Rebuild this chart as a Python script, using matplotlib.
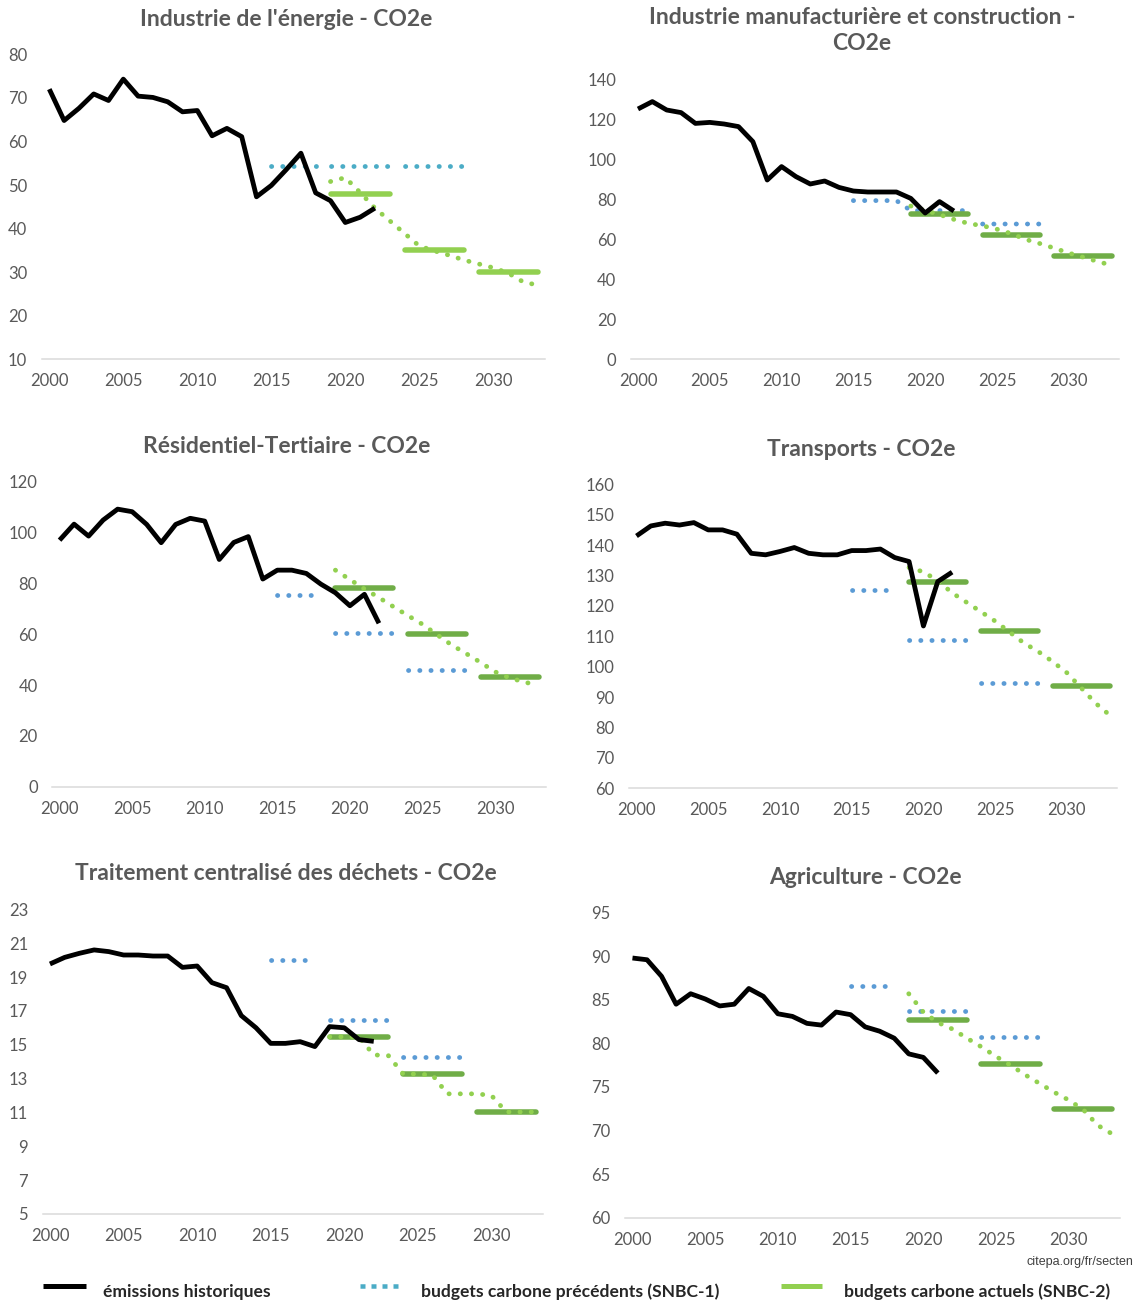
import matplotlib
matplotlib.use("Agg")
import matplotlib.pyplot as plt
from matplotlib.lines import Line2D
import numpy as np

W, H = 1137, 1301
DPI = 100

# ---------------- data ----------------
HIST_YEARS = list(range(2000, 2023))
TRAJ_YEARS = list(range(2019, 2034))
SNBC1_PERIODS = [(2015, 2018), (2019, 2023), (2024, 2028)]
SNBC2_PERIODS = [(2019, 2023), (2024, 2028), (2029, 2033)]
X_TICKS = [2000, 2005, 2010, 2015, 2020, 2025, 2030]

# Industrie de l'énergie
energie_hist = [72.0, 64.8, 67.6, 70.9, 69.4, 74.3, 70.4, 70.1, 69.1, 66.8, 67.1, 61.3,
                63.0, 61.1, 47.3, 49.9, 53.5, 57.3, 48.2, 46.4, 41.4, 42.6, 44.7]
energie_snbc1 = [54.4, 54.4, 54.4]
energie_snbc1_join = [False, False]
energie_snbc2 = [48.0, 35.0, 30.1]
energie_traj = [50.8, 51.7, 48.3, 44.7, 41.8, 38.9, 36.0, 34.9, 33.9, 32.8, 31.9, 31.0,
                29.8, 27.8, 27.0]
energie_yticks = [10, 20, 30, 40, 50, 60, 70, 80]

# Industrie manufacturière et construction
manuf_hist = [125.0, 128.7, 124.5, 123.2, 117.8, 118.3, 117.5, 116.2, 108.7, 89.5, 96.2, 91.2,
              87.5, 89.0, 85.8, 84.0, 83.5, 83.5, 83.5, 80.3, 73.0, 78.7, 74.0]
manuf_snbc1 = [79.2, 74.2, 67.5]
manuf_snbc1_join = [True, False]
manuf_snbc2 = [72.3, 61.8, 51.3]
manuf_traj = [76.5, 74.3, 72.2, 69.8, 67.8, 66.6, 64.9, 62.7, 59.8, 57.7, 55.4, 53.0,
              50.9, 48.8, 46.8]
manuf_yticks = [0, 20, 40, 60, 80, 100, 120, 140]

# Résidentiel-Tertiaire
resid_hist = [97.0, 103.3, 98.6, 104.9, 109.2, 108.2, 103.2, 96.0, 103.2, 105.6, 104.5, 89.4,
              96.1, 98.4, 81.7, 85.2, 85.2, 83.9, 79.7, 76.3, 71.2, 75.7, 64.3]
resid_snbc1 = [75.4, 60.6, 45.9]
resid_snbc1_join = [False, False]
resid_snbc2 = [78.0, 60.1, 43.0]
resid_traj = [85.2, 81.5, 77.8, 74.4, 70.8, 67.3, 63.9, 59.8, 55.8, 52.4, 48.9, 45.2,
              42.8, 41.2, 39.8]
resid_yticks = [0, 20, 40, 60, 80, 100, 120]

# Transports
transp_hist = [143.0, 146.3, 147.2, 146.6, 147.4, 145.0, 145.0, 143.6, 137.3, 136.8, 137.9, 139.2,
               137.3, 136.8, 136.8, 138.2, 138.2, 138.7, 135.9, 134.6, 113.4, 128.0, 131.1]
transp_snbc1 = [125.2, 108.8, 94.5]
transp_snbc1_join = [False, False]
transp_snbc2 = [127.7, 111.6, 93.8]
transp_traj = [132.6, 131.2, 128.3, 124.3, 121.2, 118.1, 115.0, 111.4, 107.8, 105.0, 101.7, 98.0,
               93.0, 88.0, 84.0]
transp_yticks = [60, 70, 80, 90, 100, 110, 120, 130, 140, 150, 160]

# Traitement centralisé des déchets
dechets_hist = [19.77, 20.16, 20.40, 20.60, 20.50, 20.30, 20.30, 20.24, 20.24, 19.57, 19.65, 18.67,
                18.37, 16.72, 16.00, 15.08, 15.08, 15.18, 14.89, 16.07, 16.00, 15.30, 15.20]
dechets_snbc1 = [20.0, 16.44, 14.3]
dechets_snbc1_join = [False, False]
dechets_snbc2 = [15.48, 13.25, 11.03]
dechets_traj = [15.47, 15.47, 15.45, 14.40, 14.35, 13.27, 13.27, 13.20, 12.10, 12.10, 12.10, 12.00,
                11.03, 11.03, 11.03]
dechets_yticks = [5, 7, 9, 11, 13, 15, 17, 19, 21, 23]

# Agriculture
agri_hist = [89.8, 89.6, 87.7, 84.5, 85.7, 85.1, 84.3, 84.5, 86.3, 85.4, 83.4, 83.1,
             82.3, 82.1, 83.6, 83.3, 81.9, 81.4, 80.6, 78.8, 78.4, 76.6]
agri_snbc1 = [86.6, 83.75, 80.7]
agri_snbc1_join = [False, False]
agri_snbc2 = [82.7, 77.6, 72.5]
agri_traj = [85.7, 83.6, 82.4, 81.65, 80.6, 79.6, 78.5, 77.5, 76.4, 75.4, 74.4, 73.5,
             72.4, 70.6, 69.6]
agri_yticks = [60, 65, 70, 75, 80, 85, 90, 95]

LEGEND_LABELS = ["émissions historiques",
                 "budgets carbone précédents (SNBC-1)",
                 "budgets carbone actuels (SNBC-2)"]
SOURCE = "citepa.org/fr/secten"

# ---------------- style ----------------
FONT = "Lato"
GRAY = "#595959"
AXIS = "#D9D9D9"
BLACK = "#000000"
BLUE_TEAL = "#4BACC6"
BLUE = "#5B9BD5"
GREEN_LIGHT = "#92D050"
GREEN_DARK = "#70AD47"

PX = 72.0 / DPI  # points per pixel

fig = plt.figure(figsize=(W / DPI, H / DPI), dpi=DPI)
fig.patch.set_facecolor("white")


def fx(x):
    return x / W


def fy(y):
    return 1 - y / H


def segments(periods, values, joins=None):
    xs, ys = [], []
    for i, ((a, b), v) in enumerate(zip(periods, values)):
        if i > 0 and not (joins and joins[i - 1]):
            xs.append(np.nan)
            ys.append(np.nan)
        xs += [a, b]
        ys += [v, v]
    return xs, ys


def panel(left, right, top, bottom, title_lines, title_x, title_ys,
          hist, snbc1, snbc1_join, snbc2, traj, yticks, blue, green_solid):
    ax = fig.add_axes([fx(left), fy(bottom), (right - left) / W, (bottom - top) / H])
    ax.set_xlim(1999.5, 2033.5)
    ax.set_ylim(yticks[0], yticks[-1])
    for s in ["top", "left", "right"]:
        ax.spines[s].set_visible(False)
    ax.spines["bottom"].set_color(AXIS)
    ax.spines["bottom"].set_linewidth(1.5 * PX)
    ax.set_xticks(X_TICKS)
    ax.set_yticks(yticks)
    ax.set_xticklabels([str(t) for t in X_TICKS])
    ax.set_yticklabels([str(t) for t in yticks])
    ax.tick_params(axis="both", length=0, labelsize=12, labelcolor=GRAY)
    ax.tick_params(axis="x", pad=10)
    ax.tick_params(axis="y", pad=10.5)
    for lab in ax.get_xticklabels() + ax.get_yticklabels():
        lab.set_fontfamily(FONT)
    ax.set_facecolor("none")

    dot_px = 4.8
    dot_lw = dot_px * PX
    dots = (0, (0.05, 11.2 / dot_px - 0.05))

    x1, y1 = segments(SNBC1_PERIODS, snbc1, snbc1_join)
    ax.plot(x1, y1, color=blue, lw=dot_lw, linestyle=dots, dash_capstyle="round",
            zorder=2, clip_on=False)
    x2, y2 = segments(SNBC2_PERIODS, snbc2)
    ax.plot(x2, y2, color=green_solid, lw=5.5 * PX, solid_capstyle="round",
            zorder=3, clip_on=False)
    ax.plot(TRAJ_YEARS, traj, color=GREEN_LIGHT, lw=dot_lw, linestyle=dots,
            dash_capstyle="round", zorder=4, clip_on=False)
    ax.plot(HIST_YEARS[:len(hist)], hist, color=BLACK, lw=4.8 * PX,
            solid_joinstyle="round", solid_capstyle="butt", zorder=5, clip_on=False)

    for line, ty in zip(title_lines, title_ys):
        fig.text(fx(title_x), fy(ty), line, ha="center", va="center",
                 fontsize=16.5, fontweight="bold", color=GRAY, family=FONT)
    return ax


panel(41.9, 545.1, 54.3, 359.3, ["Industrie de l'énergie - CO2e"], 286, [19],
      energie_hist, energie_snbc1, energie_snbc1_join, energie_snbc2, energie_traj,
      energie_yticks, BLUE_TEAL, GREEN_LIGHT)
panel(630.8, 1119.0, 79.0, 359.0,
      ["Industrie manufacturière et construction -", "CO2e"], 862, [17, 44],
      manuf_hist, manuf_snbc1, manuf_snbc1_join, manuf_snbc2, manuf_traj,
      manuf_yticks, BLUE, GREEN_DARK)
panel(52.3, 545.9, 481.7, 786.7, ["Résidentiel-Tertiaire - CO2e"], 287, [446],
      resid_hist, resid_snbc1, resid_snbc1_join, resid_snbc2, resid_traj,
      resid_yticks, BLUE, GREEN_DARK)
panel(629.3, 1117.1, 484.3, 788.3, ["Transports - CO2e"], 861, [449],
      transp_hist, transp_snbc1, transp_snbc1_join, transp_snbc2, transp_traj,
      transp_yticks, BLUE, GREEN_DARK)
panel(42.6, 543.0, 909.3, 1214.0, ["Traitement centralisé des déchets - CO2e"], 286, [874],
      dechets_hist, dechets_snbc1, dechets_snbc1_join, dechets_snbc2, dechets_traj,
      dechets_yticks, BLUE, GREEN_DARK)
panel(625.2, 1119.6, 912.7, 1217.7, ["Agriculture - CO2e"], 865, [877],
      agri_hist, agri_snbc1, agri_snbc1_join, agri_snbc2, agri_traj,
      agri_yticks, BLUE, GREEN_DARK)

# ---------------- legend ----------------
ly = 1286
fig.add_artist(Line2D([fx(43), fx(86)], [fy(ly), fy(ly)], transform=fig.transFigure,
                      color=BLACK, lw=5 * PX, solid_capstyle="butt"))
sq_lw = 4.5 * PX
fig.add_artist(Line2D([fx(360), fx(400)], [fy(ly), fy(ly)], transform=fig.transFigure,
                      color=BLUE_TEAL, lw=sq_lw, dash_capstyle="butt",
                      linestyle=(0, (5 * PX / sq_lw, 6 * PX / sq_lw))))
fig.add_artist(Line2D([fx(781), fx(822)], [fy(ly), fy(ly)], transform=fig.transFigure,
                      color=GREEN_LIGHT, lw=5 * PX, solid_capstyle="butt"))
for x, txt in zip([103, 421, 844], LEGEND_LABELS):
    fig.text(fx(x), fy(1292), txt, ha="left", va="center", fontsize=12.6,
             fontweight="bold", color="#262626", family=FONT)

fig.text(fx(1133), fy(1262), SOURCE, ha="right", va="center", fontsize=9,
         color="#404040", family="Liberation Sans")

fig.savefig("out.png", dpi=DPI, facecolor="white")
